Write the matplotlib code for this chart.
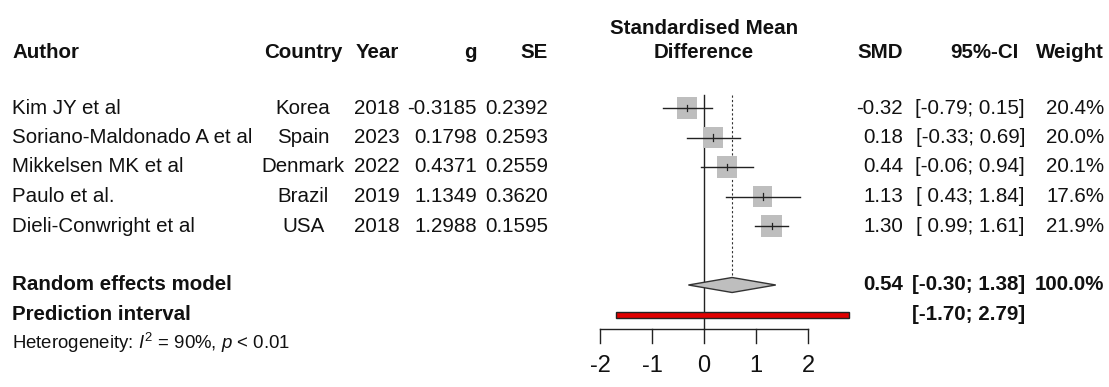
import numpy as np
import matplotlib.pyplot as plt
from matplotlib.patches import Rectangle, Polygon
from matplotlib.transforms import blended_transform_factory

plt.rcParams['font.family'] = ['Liberation Sans', 'DejaVu Sans']
plt.rcParams['mathtext.fontset'] = 'custom'
plt.rcParams['mathtext.rm'] = 'Liberation Sans'
plt.rcParams['mathtext.it'] = 'Liberation Sans:italic'

# study data
authors = ["Kim JY et al", "Soriano-Maldonado A et al", "Mikkelsen MK et al",
           "Paulo et al.", "Dieli-Conwright et al"]
countries = ["Korea", "Spain", "Denmark", "Brazil", "USA"]
years = [2018, 2023, 2022, 2019, 2018]
g = [-0.3185, 0.1798, 0.4371, 1.1349, 1.2988]
se = [0.2392, 0.2593, 0.2559, 0.3620, 0.1595]
smd = [-0.32, 0.18, 0.44, 1.13, 1.30]
ci_lo = [-0.79, -0.33, -0.06, 0.43, 0.99]
ci_hi = [0.15, 0.69, 0.94, 1.84, 1.61]
weights = [20.4, 20.0, 20.1, 17.6, 21.9]

# random effects summary and prediction interval
pooled = 0.54
pooled_lo, pooled_hi = -0.30, 1.38
pred_lo, pred_hi = -1.70, 2.79
i2 = 90
xticks = [-2, -1, 0, 1, 2]

W, H = 1109, 387
PX_X = 52.0    # pixels per SMD unit
PX_Y = 29.5    # pixels per row
X0 = 704       # pixel position of SMD = 0
Y0 = 108       # pixel position of first study row

fig = plt.figure(figsize=(W / 100, H / 100), dpi=100)
ax = fig.add_axes([0, 0, 1, 1])
ax.set_xlim(-X0 / PX_X, (W - X0) / PX_X)
ax.set_ylim((H - Y0) / PX_Y, -Y0 / PX_Y)
ax.axis('off')

tr = blended_transform_factory(fig.transFigure, ax.transData)
fs = 14.8
ink = '#111111'


def row(px):
    return (px - Y0) / PX_Y


def txt(xpx, y, s, ha='left', bold=False, size=fs):
    ax.text(xpx / W, y, s, transform=tr, ha=ha, va='center', fontsize=size,
            fontweight='bold' if bold else 'normal', color=ink)


# column headers
hy = row(52)
txt(12, hy, "Author", bold=True)
txt(303, hy, "Country", ha='center', bold=True)
txt(377, hy, "Year", ha='center', bold=True)
txt(477, hy, "g", ha='right', bold=True)
txt(548, hy, "SE", ha='right', bold=True)
txt(X0, row(28), "Standardised Mean", ha='center', bold=True)
txt(X0, hy, "Difference", ha='center', bold=True)
txt(903, hy, "SMD", ha='right', bold=True)
txt(1019, hy, "95%-CI", ha='right', bold=True)
txt(1104, hy, "Weight", ha='right', bold=True)

# study rows
for i in range(len(authors)):
    y = i
    txt(12, y, authors[i])
    txt(303, y, countries[i], ha='center')
    txt(377, y, str(years[i]), ha='center')
    txt(477, y, f"{g[i]:.4f}", ha='right')
    txt(548, y, f"{se[i]:.4f}", ha='right')
    txt(903, y, f"{smd[i]:.2f}", ha='right')
    lo = f"{ci_lo[i]:.2f}" if ci_lo[i] < 0 else f" {ci_lo[i]:.2f}"
    txt(1025, y, f"[{lo}; {ci_hi[i]:.2f}]", ha='right')
    txt(1104, y, f"{weights[i]:.1f}%", ha='right')

    # square sized by weight, CI line and centre tick
    side = 4.43 * np.sqrt(weights[i])
    sw, sh = side / PX_X, 1.1 * side / PX_Y
    ax.add_patch(Rectangle((smd[i] - sw / 2, y - sh / 2), sw, sh,
                           facecolor='#bebebe', edgecolor='none', zorder=2))
    ax.plot([ci_lo[i], ci_hi[i]], [y, y], color='#222222', lw=1.0, zorder=3)
    ax.plot([smd[i], smd[i]], [y - 0.11, y + 0.11], color='#222222', lw=0.9, zorder=3)

# summary rows
ry = 6
txt(12, ry, "Random effects model", bold=True)
txt(903, ry, f"{pooled:.2f}", ha='right', bold=True)
txt(1025, ry, f"[{pooled_lo:.2f}; {pooled_hi:.2f}]", ha='right', bold=True)
txt(1104, ry, f"{sum(weights):.1f}%", ha='right', bold=True)

py = 7
txt(12, py, "Prediction interval", bold=True)
txt(1025, py, f"[{pred_lo:.2f}; {pred_hi:.2f}]", ha='right', bold=True)

txt(12, row(343), r"Heterogeneity: $I^2$ = " + f"{i2}%, " + r"$p$ < 0.01", size=13.4)

dh = 7.5 / PX_Y
ax.add_patch(Polygon([(pooled_lo, ry), (pooled, ry - dh), (pooled_hi, ry), (pooled, ry + dh)],
                     closed=True, facecolor='#bebebe', edgecolor='#333333', lw=1.0, zorder=3))
ph = 3 / PX_Y
ax.add_patch(Rectangle((pred_lo, py - ph), pred_hi - pred_lo, 2 * ph,
                       facecolor='#e00000', edgecolor='#222222', lw=1.0, zorder=3))

# reference lines
axis_y = row(329)
top_y = row(95)
ax.plot([0, 0], [top_y, axis_y], color='#222222', lw=1.0, zorder=1)
ax.plot([pooled, pooled], [top_y, ry - dh], color='#333333', lw=0.8,
        linestyle=(0, (2, 2)), zorder=1)

# x axis
ax.plot([xticks[0], xticks[-1]], [axis_y, axis_y], color='#222222', lw=1.0)
for t in xticks:
    ax.plot([t, t], [axis_y, row(343)], color='#222222', lw=1.0)
    ax.text(t, row(366), f"{t}", ha='center', va='center', fontsize=17, color=ink)

fig.savefig("out.png", dpi=100)
